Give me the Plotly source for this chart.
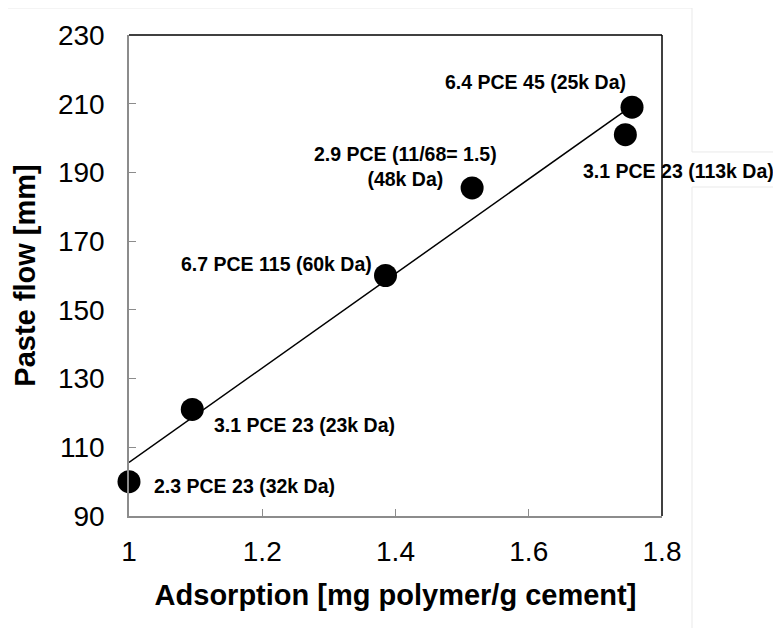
import numpy as np
import plotly.graph_objects as go

# Data
adsorption = [1.0, 1.095, 1.385, 1.515, 1.745, 1.755]
paste_flow = [100, 121, 160, 185.5, 201, 209]
labels = [
    "2.3 PCE 23 (32k Da)",
    "3.1 PCE 23 (23k Da)",
    "6.7 PCE 115 (60k Da)",
    "2.9 PCE (11/68= 1.5)<br>(48k Da)",
    "3.1 PCE 23 (113k Da)",
    "6.4 PCE 45 (25k Da)",
]
x_ticks = [1, 1.2, 1.4, 1.6, 1.8]
x_tick_text = ["1", "1.2", "1.4", "1.6", "1.8"]
y_ticks = [90, 110, 130, 150, 170, 190, 210, 230]

# label placement (pixel offsets from each point)
label_anchor = ["left", "left", "right", "center", "center", "right"]
label_dx = [23, 20, -12, -67, 53, -4]
label_dy = [-4, -16, 12, 21.5, -36, 25]

slope, intercept = np.polyfit(adsorption, paste_flow, 1)
fit_x = [min(adsorption), max(adsorption)]
fit_y = [slope * v + intercept for v in fit_x]

FONT = "Liberation Sans, Arial, sans-serif"

fig = go.Figure()
fig.add_trace(go.Scatter(x=fit_x, y=fit_y, mode="lines",
                         line=dict(color="black", width=1.5),
                         hoverinfo="skip", showlegend=False))
fig.add_trace(go.Scatter(x=adsorption, y=paste_flow, mode="markers",
                         marker=dict(color="black", size=23),
                         showlegend=False, cliponaxis=False))

for xv, yv, t, a, dx, dy in zip(adsorption, paste_flow, labels, label_anchor, label_dx, label_dy):
    fig.add_annotation(x=xv, y=yv, xref="x", yref="y", text=t, showarrow=False,
                       xanchor=a, yanchor="middle", xshift=dx, yshift=dy,
                       align="center",
                       font=dict(family=FONT, size=19.5, color="black", weight="bold"))

# top and right black border
fig.add_shape(type="line", xref="paper", yref="paper", x0=0, x1=1, y0=1, y1=1,
              line=dict(color="black", width=1.5))
fig.add_shape(type="line", xref="paper", yref="paper", x0=1, x1=1, y0=0, y1=1,
              line=dict(color="black", width=1.5))

# faint outer frame of the pasted picture
frame_col = "#e9e9e9"
fig.add_shape(type="line", xref="paper", yref="paper", x0=-0.25, x1=1.0563, y0=1.0561, y1=1.0561,
              line=dict(color=frame_col, width=1))
fig.add_shape(type="line", xref="paper", yref="paper", x0=1.0563, x1=1.0563, y0=1.0561, y1=0.7568,
              line=dict(color=frame_col, width=1))
fig.add_shape(type="line", xref="paper", yref="paper", x0=1.0563, x1=1.25, y0=0.7568, y1=0.7568,
              line=dict(color=frame_col, width=1))
fig.add_shape(type="line", xref="paper", yref="paper", x0=1.0563, x1=1.25, y0=0.684, y1=0.684,
              line=dict(color=frame_col, width=1))
fig.add_shape(type="line", xref="paper", yref="paper", x0=1.0563, x1=1.0563, y0=0.684, y1=-0.25,
              line=dict(color=frame_col, width=1))

fig.update_layout(
    width=781, height=628,
    margin=dict(l=121, r=127, t=27, b=120, autoexpand=False),
    paper_bgcolor="white", plot_bgcolor="white",
    font=dict(family=FONT, color="black"),
    showlegend=False,
)
fig.update_xaxes(
    range=[1, 1.8], tickvals=x_ticks, ticktext=x_tick_text,
    showgrid=False, zeroline=False,
    showline=True, linecolor="#8c8c8c", linewidth=1.5,
    ticks="inside", ticklen=7, tickcolor="#8c8c8c", tickwidth=1,
    tickfont=dict(family=FONT, size=28, color="black"),
    ticklabelstandoff=10,
    title=dict(text="Adsorption [mg polymer/g cement]", standoff=18,
               font=dict(family=FONT, size=29, color="black", weight="bold")),
)
fig.update_yaxes(
    range=[90, 230], tickvals=y_ticks,
    showgrid=False, zeroline=False,
    showline=True, linecolor="#8c8c8c", linewidth=1.5,
    ticks="inside", ticklen=7, tickcolor="#8c8c8c", tickwidth=1,
    tickfont=dict(family=FONT, size=28, color="black"),
    ticklabelstandoff=17,
    title=dict(text="Paste flow [mm]", standoff=14,
               font=dict(family=FONT, size=29, color="black", weight="bold")),
)

fig.write_html("out.html")
